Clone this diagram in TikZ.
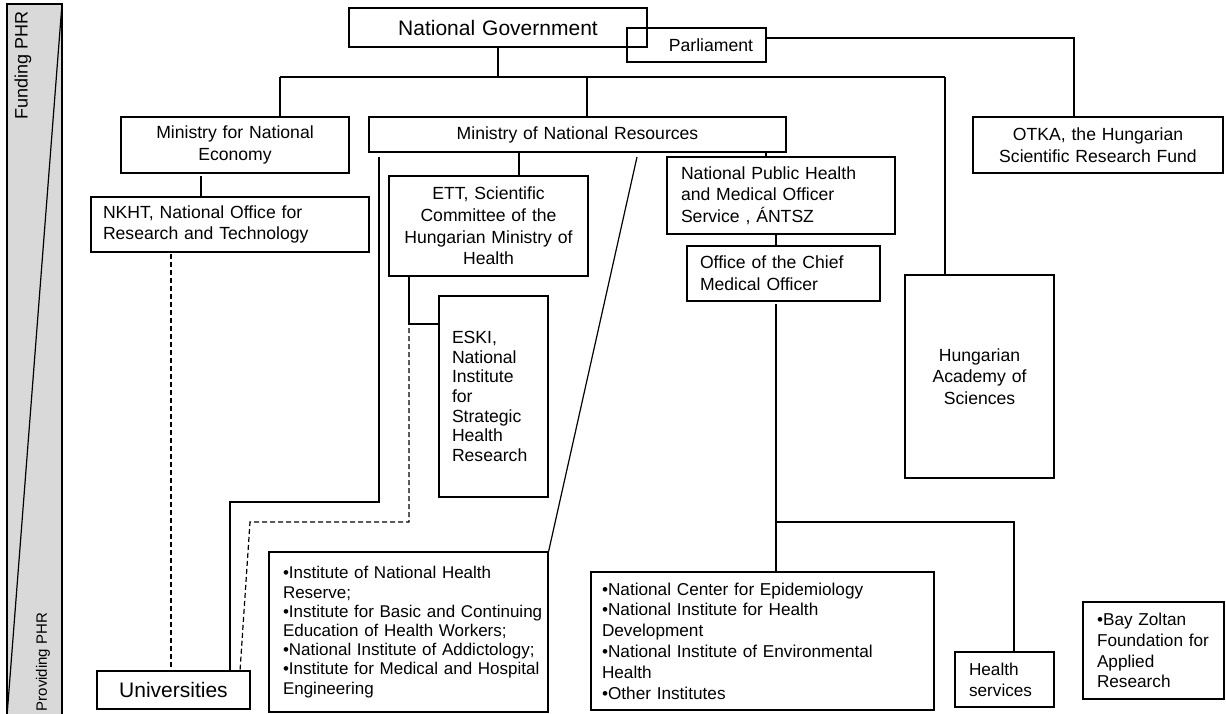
\documentclass[tikz,border=0pt]{standalone}
\usepackage{fontspec}
\setmainfont{Liberation Sans}
\begin{document}
\begin{tikzpicture}[x=0.5pt,y=-0.5pt,line width=0.6pt]
  \tikzset{
    box/.style={draw, rectangle, inner sep=0pt, font=\fontsize{8.8}{10.8}\selectfont},
    cbox/.style={box, align=center},
    lbox/.style={box, align=left, execute at begin node={\leftskip=#1\rightskip=-12pt plus 1fil}},
    dashline/.style={dash pattern=on 2.5pt off 1.5pt},
    bartext/.style={rotate=90, font=\fontsize{7.5}{9}\selectfont},
  }
  \useasboundingbox (0,0) rectangle (1226,713);
  % funding / providing bar
  \draw[fill=black!15] (7,4) rectangle (62,716);
  \draw (62,4) -- (7,716);
  \node[bartext, font=\fontsize{9}{11}\selectfont] (fund) at (23,65) {Funding PHR};
  \node[bartext] (prov) at (43,662) {Providing PHR};
  % boxes
  \node[cbox, text width=149pt, minimum height=19.5pt, font=\fontsize{10.5}{12.6}\selectfont] (gov) at (498,27.5) {National Government};
  \node[box, align=right, text width=56.5pt, inner xsep=6.5pt, minimum height=17pt] (parl) at (696.5,45) {Parliament};
  \node[cbox, text width=114pt, minimum height=28pt] (mne) at (235,145) {Ministry for National\\Economy};
  \node[cbox, text width=208.5pt, minimum height=17.5pt] (mnr) at (577.5,134.5) {Ministry of National Resources};
  \node[cbox, text width=125pt, minimum height=28pt] (otka) at (1098,145) {OTKA, the Hungarian\\Scientific Research Fund};
  \node[lbox=6pt, text width=139pt, minimum height=27.5pt] (nkht) at (230,224.5) {NKHT, National Office for\\Research and Technology};
  \node[cbox, text width=99.5pt, minimum height=50pt] (ett) at (488.5,226) {ETT, Scientific\\Committee of the\\Hungarian Ministry of\\Health};
  \node[lbox=6.5pt, text width=54.5pt, minimum height=100.5pt, font=\fontsize{8.8}{9.8}\selectfont] (eski) at (493.5,396.5) {ESKI,\\National\\Institute\\for\\Strategic\\Health\\Research};
  \node[lbox=7pt, text width=114pt, minimum height=38.5pt] (nph) at (781,195.5) {National Public Health\\and Medical Officer\\Service , ÁNTSZ};
  \node[lbox=6.5pt, text width=96.5pt, minimum height=27.5pt] (ocmo) at (783.5,273.5) {Office of the Chief\\Medical Officer};
  \node[cbox, text width=74.5pt, minimum height=101.5pt] (acad) at (979.5,376.5) {Hungarian\\Academy of\\Sciences};
  \node[cbox, text width=76.5pt, minimum height=19pt, font=\fontsize{10.5}{12.6}\selectfont] (univ) at (173.5,690) {Universities};
  \node[lbox=7pt, text width=139.5pt, minimum height=80pt, font=\fontsize{8.5}{9.6}\selectfont] (inst) at (408.5,632) {•Institute of National Health\\Reserve;\\•Institute for Basic and Continuing\\Education of Health Workers;\\•National Institute of Addictology;\\•Institute for Medical and Hospital\\Engineering};
  \node[lbox=5.5pt, text width=171.5pt, minimum height=69pt, font=\fontsize{8.6}{10.4}\selectfont] (natc) at (762.5,641) {•National Center for Epidemiology\\•National Institute for Health\\Development\\•National Institute of Environmental\\Health\\•Other Institutes};
  \node[lbox=7pt, text width=49.5pt, minimum height=27.5pt, font=\fontsize{8.6}{10.4}\selectfont] (hsvc) at (1004.5,679.5) {Health\\services};
  \node[lbox=7pt, text width=70.5pt, minimum height=48.5pt, font=\fontsize{8.6}{10.4}\selectfont] (bay) at (1153.5,650.5) {•Bay Zoltan\\Foundation for\\Applied\\Research};
  % government bus
  \coordinate (b0) at (498,77);
  \coordinate (b1) at (280,77);
  \coordinate (b2) at (587,77);
  \coordinate (b3) at (945,77);
  \draw (gov) -- (b0);
  \draw (b1) -- (b3);
  \draw (b1) -- (b1 |- mne.north);
  \draw (b2) -- (b2 |- mnr.north);
  \draw (b3) -- (b3 |- acad.north);
  \coordinate (p1) at (1074,38);
  \draw (parl.east |- p1) -- (p1) -- (p1 |- otka.north);
  % economy side
  \coordinate (c1) at (201,176);
  \draw (c1) -- (c1 |- nkht.north);
  \coordinate (c2) at (171,254);
  \draw[dashline] (c2) -- (c2 |- univ.north);
  % resources side
  \coordinate (s1) at (379,157);
  \coordinate (s2) at (230,502);
  \draw (s1) |- (s2) -- (s2 |- univ.north);
  \coordinate (c3) at (519,152);
  \draw (c3) -- (c3 |- ett.north);
  \coordinate (c4) at (409,324);
  \draw (c4 |- ett.south) -- (c4) -- (c4 -| eski.west);
  \coordinate (d1) at (409,328);
  \coordinate (d2) at (250,522);
  \coordinate (d3) at (240,671);
  \draw[dashline] (d1) |- (d2) -- (d3);
  \coordinate (c5) at (637,157);
  \draw (c5) -- (inst.north east);
  \coordinate (c6) at (766,152);
  \draw (c6) -- (c6 |- nph.north);
  \coordinate (c7) at (776,234);
  \draw (c7) -- (c7 |- ocmo.north);
  \coordinate (e1) at (776,304);
  \coordinate (e2) at (776,522);
  \coordinate (e3) at (1014,522);
  \draw (e1) -- (e1 |- natc.north);
  \draw (e2) -- (e3) -- (e3 |- hsvc.north);
\end{tikzpicture}
\end{document}
